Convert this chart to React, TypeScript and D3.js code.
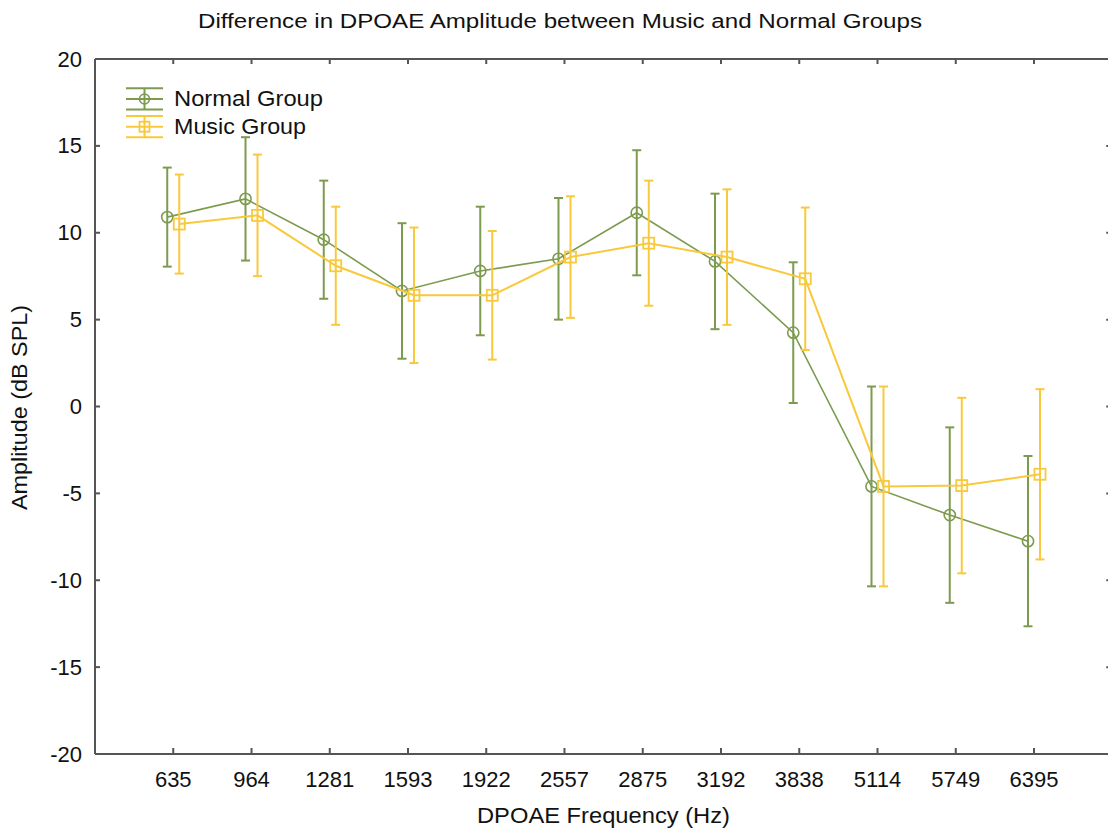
import React from "react";
import * as d3 from "d3";

const categories = ["635", "964", "1281", "1593", "1922", "2557", "2875", "3192", "3838", "5114", "5749", "6395"];
const normalMean = [10.9, 11.95, 9.6, 6.65, 7.8, 8.5, 11.15, 8.35, 4.25, -4.6, -6.25, -7.75];
const normalErr = [2.85, 3.55, 3.4, 3.9, 3.7, 3.5, 3.6, 3.9, 4.05, 5.75, 5.05, 4.9];
const musicMean = [10.5, 11.0, 8.1, 6.4, 6.4, 8.6, 9.4, 8.6, 7.35, -4.6, -4.55, -3.9];
const musicErr = [2.85, 3.5, 3.4, 3.9, 3.7, 3.5, 3.6, 3.9, 4.1, 5.75, 5.05, 4.9];
const yTicks = [-20, -15, -10, -5, 0, 5, 10, 15, 20];

const W = 1108;
const H = 838;
const GREEN = "#7d9b4f";
const YELLOW = "#f8c93c";
const AXIS = "#555";
const FONT = "'Liberation Sans', Arial, sans-serif";

export default function App() {
  const x = d3.scaleLinear().domain([0, categories.length + 1]).range([95, 95 + 78.25 * 13]);
  const y = d3.scaleLinear().domain([-20, 20]).range([754, 59]);
  const off = 6;

  const series = [
    { name: "Normal Group", mean: normalMean, err: normalErr, color: GREEN, dx: -off, marker: "circle", lw: 1.6 },
    { name: "Music Group", mean: musicMean, err: musicErr, color: YELLOW, dx: off, marker: "square", lw: 2 },
  ];

  const line = (s: any) =>
    d3
      .line<number>()
      .x((_, i) => x(i + 1) + s.dx)
      .y((v) => y(v))(s.mean) as string;

  const left = x(0);
  const right = x(categories.length + 1);
  const top = y(20);
  const bottom = y(-20);

  return (
    <svg width={W} height={H} style={{ position: "absolute", left: 0, top: 0, background: "#fff" }} fontFamily={FONT}>
      <rect x={0} y={0} width={W} height={H} fill="#fff" />
      {/* title */}
      <text x={560} y={28} textAnchor="middle" fontSize={20} textLength={724} lengthAdjust="spacingAndGlyphs" fill="#111">
        Difference in DPOAE Amplitude between Music and Normal Groups
      </text>

      {/* frame */}
      <g stroke={AXIS} strokeWidth={2} fill="none">
        <line x1={left} y1={top} x2={right} y2={top} />
        <line x1={left} y1={bottom} x2={right} y2={bottom} />
        <line x1={left} y1={top} x2={left} y2={bottom} />
        <line x1={right} y1={top} x2={right} y2={bottom} />
      </g>

      {/* y ticks */}
      {yTicks.map((t) => (
        <g key={"y" + t}>
          <line x1={left} x2={left + 5} y1={y(t)} y2={y(t)} stroke={AXIS} strokeWidth={2} />
          <line x1={right - 6} x2={right} y1={y(t)} y2={y(t)} stroke={AXIS} strokeWidth={2} />
          <text x={82} y={y(t) + 7.5} textAnchor="end" fontSize={22} fill="#111">
            {t}
          </text>
        </g>
      ))}

      {/* x ticks */}
      {categories.map((c, i) => (
        <g key={"x" + c}>
          <line x1={x(i + 1)} x2={x(i + 1)} y1={bottom} y2={bottom - 6} stroke={AXIS} strokeWidth={2} />
          <line x1={x(i + 1)} x2={x(i + 1)} y1={top} y2={top + 5} stroke={AXIS} strokeWidth={2} />
          <text x={x(i + 1)} y={787} textAnchor="middle" fontSize={22} fill="#111">
            {c}
          </text>
        </g>
      ))}

      {/* axis labels */}
      <text x={603.5} y={823} textAnchor="middle" fontSize={21.5} textLength={253} lengthAdjust="spacingAndGlyphs" fill="#111">
        DPOAE Frequency (Hz)
      </text>
      <text
        transform={`translate(27,407.5) rotate(-90)`}
        textAnchor="middle"
        fontSize={21.5}
        textLength={205}
        lengthAdjust="spacingAndGlyphs"
        fill="#111"
      >
        Amplitude (dB SPL)
      </text>

      {/* series */}
      {series.map((s) => (
        <g key={s.name}>
          <path d={line(s)} fill="none" stroke={s.color} strokeWidth={s.lw} />
          {s.mean.map((m, i) => {
            const cx = x(i + 1) + s.dx;
            const y0 = y(m + s.err[i]);
            const y1 = y(m - s.err[i]);
            return (
              <g key={i} stroke={s.color} strokeWidth={2} fill="none">
                <line x1={cx} x2={cx} y1={y0} y2={y1} />
                <line x1={cx - 4.5} x2={cx + 4.5} y1={y0} y2={y0} />
                <line x1={cx - 4.5} x2={cx + 4.5} y1={y1} y2={y1} />
                {s.marker === "circle" ? (
                  <circle cx={cx} cy={y(m)} r={5.6} strokeWidth={1.6} />
                ) : (
                  <rect x={cx - 5.5} y={y(m) - 5.5} width={11} height={11} strokeWidth={1.8} />
                )}
              </g>
            );
          })}
        </g>
      ))}

      {/* legend */}
      {series.map((s, k) => {
        const cy = 99 + k * 27.7;
        return (
          <g key={"leg" + s.name}>
            <g stroke={s.color} strokeWidth={2} fill="none">
              <line x1={126} x2={163} y1={cy - 10.7} y2={cy - 10.7} />
              <line x1={126} x2={163} y1={cy} y2={cy} />
              <line x1={126} x2={163} y1={cy + 10.5} y2={cy + 10.5} />
              <line x1={144.5} x2={144.5} y1={cy - 10.7} y2={cy + 10.5} />
              {s.marker === "circle" ? (
                <circle cx={144.5} cy={cy} r={5} strokeWidth={1.6} />
              ) : (
                <rect x={139.5} y={cy - 5} width={10} height={10} strokeWidth={1.8} />
              )}
            </g>
            <text
              x={174}
              y={cy + 7}
              fontSize={21.5}
              textLength={k === 0 ? 149 : 132}
              lengthAdjust="spacingAndGlyphs"
              fill="#111"
            >
              {s.name}
            </text>
          </g>
        );
      })}
    </svg>
  );
}
